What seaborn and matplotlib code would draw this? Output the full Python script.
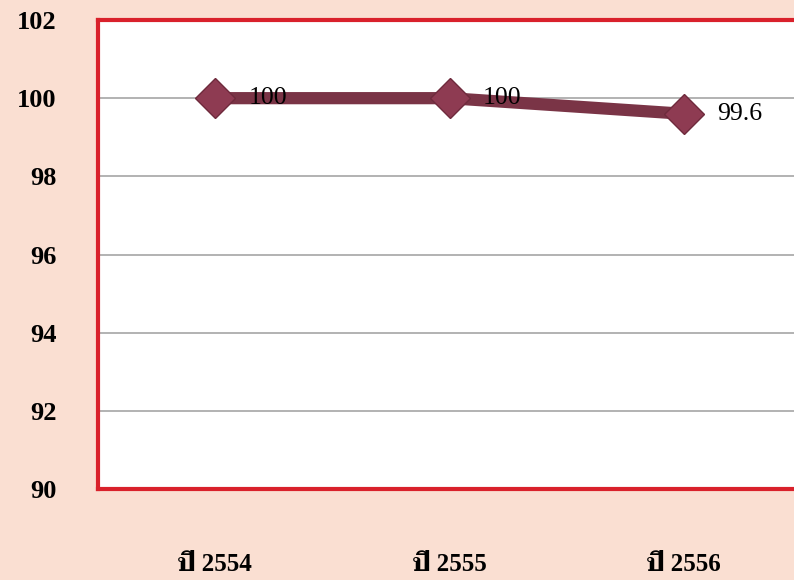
import matplotlib
matplotlib.use('Agg')
import matplotlib.pyplot as plt
import seaborn as sns
import pandas as pd

# data
years = ['ปี 2554', 'ปี 2555', 'ปี 2556']
values = [100, 100, 99.6]
value_labels = ['100', '100', '99.6']
y_ticks = [90, 92, 94, 96, 98, 100, 102]

BG = '#FADFD2'
LINE = '#7A3446'
MARK = '#8E3B52'
SERIF = ['Liberation Serif', 'Taviraj', 'Noto Serif Thai', 'DejaVu Serif']

sns.set_theme(style='white')
plt.rcParams['font.family'] = SERIF
plt.rcParams['text.color'] = 'black'
plt.rcParams['xtick.color'] = 'black'
plt.rcParams['ytick.color'] = 'black'

df = pd.DataFrame({'year': years, 'value': values})

fig = plt.figure(figsize=(7.94, 5.8), dpi=100, facecolor=BG)
ax = fig.add_axes([98 / 794, 1 - 489 / 580, (801 - 98) / 794, (489 - 20) / 580])
ax.set_facecolor('white')

sns.lineplot(data=df, x='year', y='value', ax=ax, color=LINE, linewidth=8.8,
             marker='D', markersize=20, markerfacecolor=MARK,
             markeredgecolor='#6E2A3C', markeredgewidth=1, zorder=3)

# value labels to the right of each point
for i, (v, lab) in enumerate(zip(values, value_labels)):
    ax.annotate(lab, (i, v), xytext=(24, 0), textcoords='offset points',
                va='center', ha='left', fontsize=18.5, color='black',
                family=SERIF, zorder=4)

ax.set_xlim(-0.5, 2.5)
ax.set_ylim(90, 102)
ax.set_yticks(y_ticks)
ax.set_yticklabels([str(t) for t in y_ticks], fontsize=19, fontweight='bold',
                   family=SERIF, color='black')
ax.set_xticks(range(len(years)))
ax.set_xticklabels(years, fontsize=18, fontweight='bold',
                   family=SERIF, color='black')
ax.tick_params(axis='y', length=0, pad=30)
ax.tick_params(axis='x', length=0, pad=46)
ax.set_xlabel('')
ax.set_ylabel('')

ax.yaxis.grid(True, color='#A6A6A6', linewidth=1.2)
ax.set_axisbelow(True)
for s in ax.spines.values():
    s.set_color('#D9212B')
    s.set_linewidth(3)

fig.savefig('out.png', dpi=100, facecolor=BG)
